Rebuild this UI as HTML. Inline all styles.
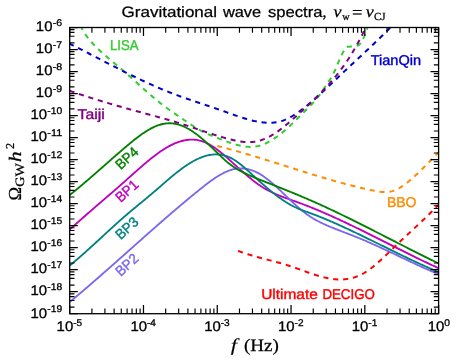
<!DOCTYPE html><html><head><meta charset="utf-8"><style>html,body{margin:0;padding:0;background:#fff}svg{display:block;will-change:transform;text-rendering:geometricPrecision}</style></head><body><svg width="457" height="363" viewBox="0 0 457 363">
<rect width="457" height="363" fill="#fff"/>
<defs><clipPath id="c"><rect x="69.70" y="27.50" width="368.90" height="286.20"/></clipPath></defs>
<g clip-path="url(#c)" fill="none" stroke-linejoin="round">
<path d="M69.70,229.56 L70.70,228.65 L71.70,227.75 L72.70,226.84 L73.70,225.94 L74.70,225.04 L75.70,224.15 L76.70,223.25 L77.70,222.36 L78.70,221.47 L79.70,220.59 L80.70,219.70 L81.70,218.82 L82.70,217.94 L83.70,217.06 L84.70,216.19 L85.70,215.31 L86.70,214.44 L87.70,213.57 L88.70,212.70 L89.70,211.83 L90.70,210.96 L91.70,210.09 L92.70,209.23 L93.70,208.36 L94.70,207.50 L95.70,206.64 L96.70,205.77 L97.70,204.91 L98.70,204.05 L99.70,203.19 L100.70,202.33 L101.70,201.46 L102.70,200.60 L103.70,199.74 L104.70,198.88 L105.70,198.02 L106.70,197.16 L107.70,196.29 L108.70,195.43 L109.70,194.57 L110.70,193.70 L111.70,192.83 L112.70,191.97 L113.70,191.10 L114.70,190.23 L115.70,189.36 L116.70,188.49 L117.70,187.62 L118.70,186.74 L119.70,185.87 L120.70,184.99 L121.70,184.11 L122.70,183.23 L123.70,182.34 L124.70,181.46 L125.70,180.57 L126.70,179.68 L127.70,178.79 L128.70,177.89 L129.70,177.00 L130.70,176.10 L131.70,175.21 L132.70,174.31 L133.70,173.42 L134.70,172.52 L135.70,171.63 L136.70,170.74 L137.70,169.86 L138.70,168.97 L139.70,168.09 L140.70,167.22 L141.70,166.35 L142.70,165.48 L143.70,164.63 L144.70,163.77 L145.70,162.93 L146.70,162.09 L147.70,161.26 L148.70,160.43 L149.70,159.62 L150.70,158.81 L151.70,158.02 L152.70,157.23 L153.70,156.46 L154.70,155.69 L155.70,154.94 L156.70,154.20 L157.70,153.47 L158.70,152.75 L159.70,152.05 L160.70,151.36 L161.70,150.69 L162.70,150.03 L163.70,149.39 L164.70,148.76 L165.70,148.15 L166.70,147.56 L167.70,146.98 L168.70,146.42 L169.70,145.88 L170.70,145.36 L171.70,144.86 L172.70,144.38 L173.70,143.91 L174.70,143.47 L175.70,143.05 L176.70,142.65 L177.70,142.28 L178.70,141.92 L179.70,141.59 L180.70,141.28 L181.70,141.00 L182.70,140.74 L183.70,140.51 L184.70,140.30 L185.70,140.12 L186.70,139.96 L187.70,139.83 L188.70,139.73 L189.70,139.65 L190.70,139.61 L191.70,139.59 L192.70,139.60 L193.70,139.64 L194.70,139.71 L195.70,139.81 L196.70,139.94 L197.70,140.11 L198.70,140.30 L199.70,140.53 L200.70,140.79 L201.70,141.08 L202.70,141.41 L203.70,141.77 L204.70,142.17 L205.70,142.60 L206.70,143.06 L207.70,143.56 L208.70,144.08 L209.70,144.64 L210.70,145.22 L211.70,145.83 L212.70,146.47 L213.70,147.13 L214.70,147.81 L215.70,148.52 L216.70,149.24 L217.70,149.99 L218.70,150.76 L219.70,151.54 L220.70,152.34 L221.70,153.16 L222.70,153.99 L223.70,154.83 L224.70,155.68 L225.70,156.55 L226.70,157.42 L227.70,158.31 L228.70,159.20 L229.70,160.09 L230.70,161.00 L231.70,161.90 L232.70,162.81 L233.70,163.72 L234.70,164.63 L235.70,165.53 L236.70,166.44 L237.70,167.34 L238.70,168.25 L239.70,169.14 L240.70,170.04 L241.70,170.92 L242.70,171.81 L243.70,172.68 L244.70,173.55 L245.70,174.41 L246.70,175.27 L247.70,176.11 L248.70,176.95 L249.70,177.77 L250.70,178.59 L251.70,179.39 L252.70,180.18 L253.70,180.96 L254.70,181.73 L255.70,182.48 L256.70,183.22 L257.70,183.94 L258.70,184.65 L259.70,185.34 L260.70,186.01 L261.70,186.67 L262.70,187.31 L263.70,187.93 L264.70,188.53 L265.70,189.11 L266.70,189.68 L267.70,190.23 L268.70,190.76 L269.70,191.28 L270.70,191.78 L271.70,192.27 L272.70,192.75 L273.70,193.21 L274.70,193.66 L275.70,194.10 L276.70,194.53 L277.70,194.95 L278.70,195.36 L279.70,195.76 L280.70,196.15 L281.70,196.54 L282.70,196.92 L283.70,197.29 L284.70,197.66 L285.70,198.02 L286.70,198.38 L287.70,198.74 L288.70,199.09 L289.70,199.44 L290.70,199.79 L291.70,200.15 L292.70,200.50 L293.70,200.85 L294.70,201.20 L295.70,201.56 L296.70,201.92 L297.70,202.28 L298.70,202.64 L299.70,203.01 L300.70,203.38 L301.70,203.75 L302.70,204.13 L303.70,204.51 L304.70,204.89 L305.70,205.28 L306.70,205.67 L307.70,206.06 L308.70,206.45 L309.70,206.85 L310.70,207.25 L311.70,207.65 L312.70,208.06 L313.70,208.47 L314.70,208.88 L315.70,209.29 L316.70,209.70 L317.70,210.12 L318.70,210.54 L319.70,210.96 L320.70,211.39 L321.70,211.82 L322.70,212.24 L323.70,212.68 L324.70,213.11 L325.70,213.55 L326.70,213.98 L327.70,214.42 L328.70,214.87 L329.70,215.31 L330.70,215.76 L331.70,216.21 L332.70,216.66 L333.70,217.11 L334.70,217.56 L335.70,218.02 L336.70,218.48 L337.70,218.94 L338.70,219.40 L339.70,219.86 L340.70,220.33 L341.70,220.79 L342.70,221.26 L343.70,221.73 L344.70,222.20 L345.70,222.67 L346.70,223.15 L347.70,223.62 L348.70,224.10 L349.70,224.58 L350.70,225.06 L351.70,225.54 L352.70,226.02 L353.70,226.50 L354.70,226.99 L355.70,227.47 L356.70,227.96 L357.70,228.44 L358.70,228.93 L359.70,229.42 L360.70,229.91 L361.70,230.41 L362.70,230.90 L363.70,231.39 L364.70,231.88 L365.70,232.38 L366.70,232.88 L367.70,233.37 L368.70,233.87 L369.70,234.37 L370.70,234.86 L371.70,235.36 L372.70,235.86 L373.70,236.36 L374.70,236.86 L375.70,237.36 L376.70,237.86 L377.70,238.37 L378.70,238.87 L379.70,239.37 L380.70,239.87 L381.70,240.37 L382.70,240.88 L383.70,241.38 L384.70,241.88 L385.70,242.39 L386.70,242.89 L387.70,243.39 L388.70,243.90 L389.70,244.40 L390.70,244.90 L391.70,245.41 L392.70,245.91 L393.70,246.41 L394.70,246.91 L395.70,247.42 L396.70,247.92 L397.70,248.42 L398.70,248.92 L399.70,249.42 L400.70,249.92 L401.70,250.42 L402.70,250.92 L403.70,251.42 L404.70,251.92 L405.70,252.42 L406.70,252.91 L407.70,253.41 L408.70,253.90 L409.70,254.40 L410.70,254.89 L411.70,255.39 L412.70,255.88 L413.70,256.37 L414.70,256.86 L415.70,257.35 L416.70,257.84 L417.70,258.33 L418.70,258.81 L419.70,259.30 L420.70,259.78 L421.70,260.26 L422.70,260.75 L423.70,261.23 L424.70,261.71 L425.70,262.18 L426.70,262.66 L427.70,263.14 L428.70,263.61 L429.70,264.08 L430.70,264.55 L431.70,265.02 L432.70,265.49 L433.70,265.96 L434.70,266.42 L435.70,266.88 L436.70,267.34 L437.70,267.80 L438.60,268.22" stroke="#bf00bf" stroke-width="1.85"/>
<path d="M69.70,302.00 L70.70,301.18 L71.70,300.35 L72.70,299.52 L73.70,298.69 L74.70,297.85 L75.70,297.02 L76.70,296.18 L77.70,295.34 L78.70,294.50 L79.70,293.65 L80.70,292.81 L81.70,291.96 L82.70,291.11 L83.70,290.26 L84.70,289.40 L85.70,288.55 L86.70,287.69 L87.70,286.84 L88.70,285.98 L89.70,285.12 L90.70,284.26 L91.70,283.39 L92.70,282.53 L93.70,281.66 L94.70,280.79 L95.70,279.92 L96.70,279.05 L97.70,278.18 L98.70,277.31 L99.70,276.44 L100.70,275.56 L101.70,274.69 L102.70,273.81 L103.70,272.93 L104.70,272.05 L105.70,271.17 L106.70,270.29 L107.70,269.41 L108.70,268.53 L109.70,267.65 L110.70,266.76 L111.70,265.88 L112.70,264.99 L113.70,264.11 L114.70,263.22 L115.70,262.33 L116.70,261.45 L117.70,260.56 L118.70,259.67 L119.70,258.78 L120.70,257.89 L121.70,257.00 L122.70,256.11 L123.70,255.22 L124.70,254.33 L125.70,253.44 L126.70,252.55 L127.70,251.66 L128.70,250.77 L129.70,249.88 L130.70,248.99 L131.70,248.10 L132.70,247.21 L133.70,246.32 L134.70,245.43 L135.70,244.54 L136.70,243.65 L137.70,242.76 L138.70,241.87 L139.70,240.98 L140.70,240.09 L141.70,239.20 L142.70,238.31 L143.70,237.43 L144.70,236.54 L145.70,235.65 L146.70,234.77 L147.70,233.88 L148.70,233.00 L149.70,232.11 L150.70,231.23 L151.70,230.35 L152.70,229.46 L153.70,228.58 L154.70,227.70 L155.70,226.82 L156.70,225.94 L157.70,225.07 L158.70,224.19 L159.70,223.32 L160.70,222.44 L161.70,221.57 L162.70,220.70 L163.70,219.83 L164.70,218.96 L165.70,218.09 L166.70,217.22 L167.70,216.35 L168.70,215.49 L169.70,214.63 L170.70,213.77 L171.70,212.91 L172.70,212.05 L173.70,211.19 L174.70,210.33 L175.70,209.48 L176.70,208.63 L177.70,207.78 L178.70,206.93 L179.70,206.08 L180.70,205.24 L181.70,204.39 L182.70,203.55 L183.70,202.71 L184.70,201.88 L185.70,201.04 L186.70,200.21 L187.70,199.37 L188.70,198.55 L189.70,197.72 L190.70,196.89 L191.70,196.07 L192.70,195.25 L193.70,194.43 L194.70,193.61 L195.70,192.80 L196.70,191.99 L197.70,191.18 L198.70,190.37 L199.70,189.57 L200.70,188.77 L201.70,187.97 L202.70,187.18 L203.70,186.39 L204.70,185.60 L205.70,184.82 L206.70,184.05 L207.70,183.29 L208.70,182.54 L209.70,181.80 L210.70,181.07 L211.70,180.35 L212.70,179.64 L213.70,178.95 L214.70,178.27 L215.70,177.60 L216.70,176.95 L217.70,176.32 L218.70,175.71 L219.70,175.11 L220.70,174.54 L221.70,173.98 L222.70,173.45 L223.70,172.94 L224.70,172.45 L225.70,171.98 L226.70,171.54 L227.70,171.13 L228.70,170.74 L229.70,170.38 L230.70,170.04 L231.70,169.74 L232.70,169.46 L233.70,169.22 L234.70,169.00 L235.70,168.82 L236.70,168.68 L237.70,168.56 L238.70,168.48 L239.70,168.43 L240.70,168.41 L241.70,168.42 L242.70,168.46 L243.70,168.54 L244.70,168.65 L245.70,168.79 L246.70,168.96 L247.70,169.16 L248.70,169.39 L249.70,169.65 L250.70,169.94 L251.70,170.27 L252.70,170.62 L253.70,171.01 L254.70,171.42 L255.70,171.86 L256.70,172.34 L257.70,172.84 L258.70,173.37 L259.70,173.93 L260.70,174.52 L261.70,175.14 L262.70,175.79 L263.70,176.47 L264.70,177.17 L265.70,177.89 L266.70,178.64 L267.70,179.41 L268.70,180.20 L269.70,181.01 L270.70,181.84 L271.70,182.69 L272.70,183.55 L273.70,184.43 L274.70,185.32 L275.70,186.22 L276.70,187.14 L277.70,188.06 L278.70,189.00 L279.70,189.94 L280.70,190.89 L281.70,191.84 L282.70,192.80 L283.70,193.76 L284.70,194.72 L285.70,195.68 L286.70,196.64 L287.70,197.60 L288.70,198.56 L289.70,199.51 L290.70,200.46 L291.70,201.40 L292.70,202.33 L293.70,203.25 L294.70,204.17 L295.70,205.08 L296.70,205.97 L297.70,206.86 L298.70,207.73 L299.70,208.59 L300.70,209.43 L301.70,210.26 L302.70,211.08 L303.70,211.87 L304.70,212.65 L305.70,213.42 L306.70,214.16 L307.70,214.88 L308.70,215.58 L309.70,216.26 L310.70,216.92 L311.70,217.56 L312.70,218.18 L313.70,218.78 L314.70,219.37 L315.70,219.93 L316.70,220.48 L317.70,221.02 L318.70,221.54 L319.70,222.05 L320.70,222.55 L321.70,223.03 L322.70,223.51 L323.70,223.97 L324.70,224.42 L325.70,224.87 L326.70,225.31 L327.70,225.74 L328.70,226.17 L329.70,226.59 L330.70,227.01 L331.70,227.42 L332.70,227.83 L333.70,228.23 L334.70,228.63 L335.70,229.03 L336.70,229.43 L337.70,229.82 L338.70,230.21 L339.70,230.60 L340.70,230.98 L341.70,231.37 L342.70,231.75 L343.70,232.13 L344.70,232.51 L345.70,232.90 L346.70,233.28 L347.70,233.66 L348.70,234.05 L349.70,234.43 L350.70,234.82 L351.70,235.21 L352.70,235.60 L353.70,235.99 L354.70,236.38 L355.70,236.78 L356.70,237.18 L357.70,237.59 L358.70,238.00 L359.70,238.41 L360.70,238.82 L361.70,239.24 L362.70,239.66 L363.70,240.09 L364.70,240.51 L365.70,240.94 L366.70,241.38 L367.70,241.81 L368.70,242.25 L369.70,242.69 L370.70,243.13 L371.70,243.57 L372.70,244.02 L373.70,244.47 L374.70,244.92 L375.70,245.37 L376.70,245.83 L377.70,246.28 L378.70,246.74 L379.70,247.20 L380.70,247.66 L381.70,248.12 L382.70,248.59 L383.70,249.05 L384.70,249.52 L385.70,249.99 L386.70,250.46 L387.70,250.93 L388.70,251.40 L389.70,251.87 L390.70,252.34 L391.70,252.81 L392.70,253.29 L393.70,253.76 L394.70,254.23 L395.70,254.71 L396.70,255.18 L397.70,255.66 L398.70,256.13 L399.70,256.61 L400.70,257.08 L401.70,257.56 L402.70,258.03 L403.70,258.51 L404.70,258.98 L405.70,259.45 L406.70,259.93 L407.70,260.40 L408.70,260.87 L409.70,261.34 L410.70,261.81 L411.70,262.28 L412.70,262.75 L413.70,263.21 L414.70,263.68 L415.70,264.14 L416.70,264.60 L417.70,265.06 L418.70,265.52 L419.70,265.98 L420.70,266.44 L421.70,266.89 L422.70,267.34 L423.70,267.79 L424.70,268.24 L425.70,268.69 L426.70,269.13 L427.70,269.57 L428.70,270.01 L429.70,270.45 L430.70,270.88 L431.70,271.31 L432.70,271.74 L433.70,272.17 L434.70,272.59 L435.70,273.01 L436.70,273.43 L437.70,273.84 L438.60,274.21" stroke="#7b68ee" stroke-width="1.85"/>
<path d="M69.70,265.58 L70.70,264.76 L71.70,263.94 L72.70,263.11 L73.70,262.27 L74.70,261.42 L75.70,260.57 L76.70,259.72 L77.70,258.86 L78.70,257.99 L79.70,257.12 L80.70,256.25 L81.70,255.37 L82.70,254.49 L83.70,253.60 L84.70,252.71 L85.70,251.82 L86.70,250.92 L87.70,250.02 L88.70,249.11 L89.70,248.21 L90.70,247.30 L91.70,246.39 L92.70,245.47 L93.70,244.56 L94.70,243.64 L95.70,242.72 L96.70,241.80 L97.70,240.88 L98.70,239.96 L99.70,239.04 L100.70,238.12 L101.70,237.20 L102.70,236.27 L103.70,235.35 L104.70,234.43 L105.70,233.51 L106.70,232.59 L107.70,231.67 L108.70,230.75 L109.70,229.83 L110.70,228.92 L111.70,228.01 L112.70,227.09 L113.70,226.19 L114.70,225.28 L115.70,224.38 L116.70,223.48 L117.70,222.58 L118.70,221.68 L119.70,220.79 L120.70,219.91 L121.70,219.02 L122.70,218.15 L123.70,217.27 L124.70,216.40 L125.70,215.54 L126.70,214.68 L127.70,213.82 L128.70,212.97 L129.70,212.13 L130.70,211.28 L131.70,210.44 L132.70,209.61 L133.70,208.78 L134.70,207.94 L135.70,207.12 L136.70,206.29 L137.70,205.46 L138.70,204.64 L139.70,203.81 L140.70,202.99 L141.70,202.17 L142.70,201.34 L143.70,200.52 L144.70,199.69 L145.70,198.86 L146.70,198.03 L147.70,197.20 L148.70,196.37 L149.70,195.53 L150.70,194.69 L151.70,193.85 L152.70,193.00 L153.70,192.15 L154.70,191.29 L155.70,190.43 L156.70,189.57 L157.70,188.70 L158.70,187.83 L159.70,186.96 L160.70,186.09 L161.70,185.21 L162.70,184.34 L163.70,183.47 L164.70,182.60 L165.70,181.74 L166.70,180.87 L167.70,180.01 L168.70,179.16 L169.70,178.31 L170.70,177.46 L171.70,176.62 L172.70,175.79 L173.70,174.97 L174.70,174.15 L175.70,173.35 L176.70,172.55 L177.70,171.76 L178.70,170.99 L179.70,170.22 L180.70,169.47 L181.70,168.73 L182.70,168.00 L183.70,167.29 L184.70,166.59 L185.70,165.90 L186.70,165.23 L187.70,164.57 L188.70,163.93 L189.70,163.31 L190.70,162.70 L191.70,162.11 L192.70,161.54 L193.70,160.98 L194.70,160.45 L195.70,159.93 L196.70,159.44 L197.70,158.96 L198.70,158.50 L199.70,158.07 L200.70,157.66 L201.70,157.27 L202.70,156.90 L203.70,156.55 L204.70,156.23 L205.70,155.94 L206.70,155.67 L207.70,155.42 L208.70,155.20 L209.70,155.01 L210.70,154.84 L211.70,154.70 L212.70,154.59 L213.70,154.50 L214.70,154.45 L215.70,154.42 L216.70,154.43 L217.70,154.46 L218.70,154.53 L219.70,154.63 L220.70,154.76 L221.70,154.92 L222.70,155.11 L223.70,155.34 L224.70,155.60 L225.70,155.89 L226.70,156.23 L227.70,156.59 L228.70,156.99 L229.70,157.43 L230.70,157.91 L231.70,158.42 L232.70,158.97 L233.70,159.56 L234.70,160.18 L235.70,160.83 L236.70,161.52 L237.70,162.24 L238.70,162.98 L239.70,163.74 L240.70,164.53 L241.70,165.34 L242.70,166.17 L243.70,167.02 L244.70,167.88 L245.70,168.75 L246.70,169.64 L247.70,170.53 L248.70,171.43 L249.70,172.34 L250.70,173.25 L251.70,174.16 L252.70,175.07 L253.70,175.99 L254.70,176.90 L255.70,177.82 L256.70,178.73 L257.70,179.64 L258.70,180.55 L259.70,181.45 L260.70,182.35 L261.70,183.24 L262.70,184.13 L263.70,185.01 L264.70,185.88 L265.70,186.74 L266.70,187.60 L267.70,188.45 L268.70,189.29 L269.70,190.12 L270.70,190.95 L271.70,191.76 L272.70,192.57 L273.70,193.36 L274.70,194.14 L275.70,194.91 L276.70,195.68 L277.70,196.42 L278.70,197.16 L279.70,197.89 L280.70,198.60 L281.70,199.30 L282.70,199.98 L283.70,200.66 L284.70,201.31 L285.70,201.96 L286.70,202.58 L287.70,203.20 L288.70,203.80 L289.70,204.38 L290.70,204.94 L291.70,205.49 L292.70,206.02 L293.70,206.54 L294.70,207.03 L295.70,207.51 L296.70,207.97 L297.70,208.42 L298.70,208.84 L299.70,209.25 L300.70,209.65 L301.70,210.04 L302.70,210.42 L303.70,210.79 L304.70,211.16 L305.70,211.52 L306.70,211.88 L307.70,212.23 L308.70,212.59 L309.70,212.95 L310.70,213.31 L311.70,213.67 L312.70,214.04 L313.70,214.42 L314.70,214.80 L315.70,215.18 L316.70,215.56 L317.70,215.95 L318.70,216.34 L319.70,216.74 L320.70,217.14 L321.70,217.54 L322.70,217.95 L323.70,218.36 L324.70,218.77 L325.70,219.19 L326.70,219.61 L327.70,220.03 L328.70,220.46 L329.70,220.88 L330.70,221.31 L331.70,221.75 L332.70,222.18 L333.70,222.62 L334.70,223.06 L335.70,223.51 L336.70,223.95 L337.70,224.40 L338.70,224.85 L339.70,225.30 L340.70,225.75 L341.70,226.21 L342.70,226.67 L343.70,227.13 L344.70,227.59 L345.70,228.05 L346.70,228.52 L347.70,228.98 L348.70,229.45 L349.70,229.92 L350.70,230.39 L351.70,230.86 L352.70,231.34 L353.70,231.81 L354.70,232.29 L355.70,232.77 L356.70,233.24 L357.70,233.72 L358.70,234.20 L359.70,234.69 L360.70,235.17 L361.70,235.65 L362.70,236.14 L363.70,236.62 L364.70,237.11 L365.70,237.60 L366.70,238.08 L367.70,238.57 L368.70,239.06 L369.70,239.55 L370.70,240.04 L371.70,240.53 L372.70,241.03 L373.70,241.52 L374.70,242.01 L375.70,242.50 L376.70,242.99 L377.70,243.49 L378.70,243.98 L379.70,244.47 L380.70,244.97 L381.70,245.46 L382.70,245.95 L383.70,246.45 L384.70,246.94 L385.70,247.43 L386.70,247.92 L387.70,248.42 L388.70,248.91 L389.70,249.40 L390.70,249.89 L391.70,250.38 L392.70,250.87 L393.70,251.36 L394.70,251.85 L395.70,252.34 L396.70,252.83 L397.70,253.32 L398.70,253.80 L399.70,254.29 L400.70,254.77 L401.70,255.26 L402.70,255.74 L403.70,256.22 L404.70,256.70 L405.70,257.18 L406.70,257.66 L407.70,258.14 L408.70,258.61 L409.70,259.09 L410.70,259.56 L411.70,260.03 L412.70,260.51 L413.70,260.97 L414.70,261.44 L415.70,261.91 L416.70,262.37 L417.70,262.84 L418.70,263.30 L419.70,263.76 L420.70,264.22 L421.70,264.67 L422.70,265.13 L423.70,265.58 L424.70,266.03 L425.70,266.48 L426.70,266.92 L427.70,267.37 L428.70,267.81 L429.70,268.25 L430.70,268.68 L431.70,269.12 L432.70,269.55 L433.70,269.98 L434.70,270.41 L435.70,270.83 L436.70,271.26 L437.70,271.68 L438.60,272.05" stroke="#008080" stroke-width="1.85"/>
<path d="M69.70,195.04 L70.70,194.25 L71.70,193.45 L72.70,192.64 L73.70,191.83 L74.70,191.02 L75.70,190.20 L76.70,189.37 L77.70,188.55 L78.70,187.72 L79.70,186.88 L80.70,186.04 L81.70,185.20 L82.70,184.35 L83.70,183.51 L84.70,182.65 L85.70,181.80 L86.70,180.94 L87.70,180.08 L88.70,179.22 L89.70,178.36 L90.70,177.49 L91.70,176.62 L92.70,175.75 L93.70,174.88 L94.70,174.01 L95.70,173.13 L96.70,172.26 L97.70,171.38 L98.70,170.50 L99.70,169.62 L100.70,168.74 L101.70,167.86 L102.70,166.98 L103.70,166.10 L104.70,165.22 L105.70,164.34 L106.70,163.46 L107.70,162.58 L108.70,161.70 L109.70,160.82 L110.70,159.94 L111.70,159.06 L112.70,158.18 L113.70,157.31 L114.70,156.44 L115.70,155.56 L116.70,154.69 L117.70,153.82 L118.70,152.96 L119.70,152.09 L120.70,151.23 L121.70,150.37 L122.70,149.51 L123.70,148.66 L124.70,147.81 L125.70,146.96 L126.70,146.11 L127.70,145.27 L128.70,144.43 L129.70,143.60 L130.70,142.78 L131.70,141.96 L132.70,141.15 L133.70,140.34 L134.70,139.55 L135.70,138.76 L136.70,137.99 L137.70,137.23 L138.70,136.47 L139.70,135.74 L140.70,135.01 L141.70,134.30 L142.70,133.60 L143.70,132.92 L144.70,132.26 L145.70,131.62 L146.70,130.99 L147.70,130.38 L148.70,129.79 L149.70,129.22 L150.70,128.67 L151.70,128.14 L152.70,127.64 L153.70,127.16 L154.70,126.70 L155.70,126.27 L156.70,125.86 L157.70,125.48 L158.70,125.13 L159.70,124.81 L160.70,124.51 L161.70,124.24 L162.70,124.01 L163.70,123.80 L164.70,123.62 L165.70,123.48 L166.70,123.37 L167.70,123.30 L168.70,123.25 L169.70,123.25 L170.70,123.28 L171.70,123.34 L172.70,123.43 L173.70,123.56 L174.70,123.72 L175.70,123.91 L176.70,124.13 L177.70,124.38 L178.70,124.67 L179.70,124.98 L180.70,125.32 L181.70,125.69 L182.70,126.09 L183.70,126.52 L184.70,126.97 L185.70,127.45 L186.70,127.96 L187.70,128.49 L188.70,129.05 L189.70,129.63 L190.70,130.24 L191.70,130.87 L192.70,131.53 L193.70,132.21 L194.70,132.91 L195.70,133.63 L196.70,134.37 L197.70,135.14 L198.70,135.92 L199.70,136.72 L200.70,137.55 L201.70,138.38 L202.70,139.24 L203.70,140.10 L204.70,140.99 L205.70,141.88 L206.70,142.79 L207.70,143.70 L208.70,144.63 L209.70,145.56 L210.70,146.50 L211.70,147.45 L212.70,148.41 L213.70,149.37 L214.70,150.33 L215.70,151.29 L216.70,152.26 L217.70,153.23 L218.70,154.20 L219.70,155.16 L220.70,156.12 L221.70,157.07 L222.70,158.01 L223.70,158.94 L224.70,159.85 L225.70,160.74 L226.70,161.60 L227.70,162.45 L228.70,163.26 L229.70,164.05 L230.70,164.81 L231.70,165.54 L232.70,166.25 L233.70,166.93 L234.70,167.60 L235.70,168.24 L236.70,168.85 L237.70,169.45 L238.70,170.03 L239.70,170.59 L240.70,171.14 L241.70,171.67 L242.70,172.18 L243.70,172.69 L244.70,173.18 L245.70,173.65 L246.70,174.12 L247.70,174.58 L248.70,175.03 L249.70,175.48 L250.70,175.91 L251.70,176.34 L252.70,176.77 L253.70,177.19 L254.70,177.61 L255.70,178.02 L256.70,178.43 L257.70,178.84 L258.70,179.24 L259.70,179.64 L260.70,180.04 L261.70,180.44 L262.70,180.83 L263.70,181.23 L264.70,181.62 L265.70,182.02 L266.70,182.42 L267.70,182.81 L268.70,183.21 L269.70,183.60 L270.70,184.00 L271.70,184.39 L272.70,184.79 L273.70,185.19 L274.70,185.58 L275.70,185.98 L276.70,186.38 L277.70,186.77 L278.70,187.17 L279.70,187.57 L280.70,187.97 L281.70,188.37 L282.70,188.77 L283.70,189.17 L284.70,189.57 L285.70,189.98 L286.70,190.38 L287.70,190.78 L288.70,191.19 L289.70,191.59 L290.70,192.00 L291.70,192.41 L292.70,192.82 L293.70,193.23 L294.70,193.64 L295.70,194.05 L296.70,194.46 L297.70,194.88 L298.70,195.30 L299.70,195.71 L300.70,196.13 L301.70,196.55 L302.70,196.98 L303.70,197.40 L304.70,197.82 L305.70,198.25 L306.70,198.68 L307.70,199.11 L308.70,199.54 L309.70,199.98 L310.70,200.41 L311.70,200.85 L312.70,201.29 L313.70,201.73 L314.70,202.18 L315.70,202.62 L316.70,203.07 L317.70,203.52 L318.70,203.97 L319.70,204.42 L320.70,204.87 L321.70,205.33 L322.70,205.79 L323.70,206.25 L324.70,206.71 L325.70,207.17 L326.70,207.63 L327.70,208.10 L328.70,208.56 L329.70,209.03 L330.70,209.50 L331.70,209.97 L332.70,210.44 L333.70,210.92 L334.70,211.39 L335.70,211.87 L336.70,212.35 L337.70,212.83 L338.70,213.31 L339.70,213.79 L340.70,214.27 L341.70,214.75 L342.70,215.24 L343.70,215.72 L344.70,216.21 L345.70,216.70 L346.70,217.19 L347.70,217.68 L348.70,218.17 L349.70,218.66 L350.70,219.15 L351.70,219.65 L352.70,220.14 L353.70,220.64 L354.70,221.14 L355.70,221.63 L356.70,222.13 L357.70,222.63 L358.70,223.13 L359.70,223.63 L360.70,224.13 L361.70,224.63 L362.70,225.14 L363.70,225.64 L364.70,226.14 L365.70,226.65 L366.70,227.15 L367.70,227.66 L368.70,228.17 L369.70,228.67 L370.70,229.18 L371.70,229.69 L372.70,230.20 L373.70,230.70 L374.70,231.21 L375.70,231.72 L376.70,232.23 L377.70,232.74 L378.70,233.25 L379.70,233.76 L380.70,234.27 L381.70,234.78 L382.70,235.29 L383.70,235.81 L384.70,236.32 L385.70,236.83 L386.70,237.34 L387.70,237.85 L388.70,238.36 L389.70,238.87 L390.70,239.39 L391.70,239.90 L392.70,240.41 L393.70,240.92 L394.70,241.43 L395.70,241.94 L396.70,242.45 L397.70,242.96 L398.70,243.47 L399.70,243.98 L400.70,244.49 L401.70,245.00 L402.70,245.51 L403.70,246.02 L404.70,246.53 L405.70,247.04 L406.70,247.55 L407.70,248.06 L408.70,248.56 L409.70,249.07 L410.70,249.58 L411.70,250.08 L412.70,250.59 L413.70,251.09 L414.70,251.60 L415.70,252.10 L416.70,252.60 L417.70,253.10 L418.70,253.60 L419.70,254.11 L420.70,254.61 L421.70,255.10 L422.70,255.60 L423.70,256.10 L424.70,256.60 L425.70,257.09 L426.70,257.59 L427.70,258.08 L428.70,258.58 L429.70,259.07 L430.70,259.56 L431.70,260.05 L432.70,260.54 L433.70,261.03 L434.70,261.51 L435.70,262.00 L436.70,262.48 L437.70,262.97 L438.60,263.40" stroke="#008000" stroke-width="1.85"/>
<path d="M80.50,25.91 L81.50,27.82 L82.50,29.62 L83.50,31.33 L84.50,32.94 L85.50,34.46 L86.50,35.91 L87.50,37.28 L88.50,38.58 L89.50,39.82 L90.50,41.01 L91.50,42.16 L92.50,43.26 L93.50,44.32 L94.50,45.36 L95.50,46.38 L96.50,47.38 L97.50,48.36 L98.50,49.33 L99.50,50.28 L100.50,51.22 L101.50,52.14 L102.50,53.05 L103.50,53.95 L104.50,54.84 L105.50,55.72 L106.50,56.59 L107.50,57.45 L108.50,58.31 L109.50,59.16 L110.50,60.00 L111.50,60.84 L112.50,61.67 L113.50,62.51 L114.50,63.34 L115.50,64.17 L116.50,65.00 L117.50,65.84 L118.50,66.67 L119.50,67.51 L120.50,68.35 L121.50,69.20 L122.50,70.05 L123.50,70.91 L124.50,71.78 L125.50,72.65 L126.50,73.52 L127.50,74.40 L128.50,75.29 L129.50,76.18 L130.50,77.07 L131.50,77.96 L132.50,78.86 L133.50,79.76 L134.50,80.66 L135.50,81.56 L136.50,82.46 L137.50,83.36 L138.50,84.26 L139.50,85.17 L140.50,86.07 L141.50,86.97 L142.50,87.86 L143.50,88.76 L144.50,89.65 L145.50,90.54 L146.50,91.43 L147.50,92.31 L148.50,93.19 L149.50,94.06 L150.50,94.93 L151.50,95.79 L152.50,96.65 L153.50,97.50 L154.50,98.34 L155.50,99.18 L156.50,100.01 L157.50,100.83 L158.50,101.64 L159.50,102.45 L160.50,103.24 L161.50,104.02 L162.50,104.80 L163.50,105.56 L164.50,106.32 L165.50,107.06 L166.50,107.80 L167.50,108.53 L168.50,109.25 L169.50,109.96 L170.50,110.67 L171.50,111.37 L172.50,112.07 L173.50,112.77 L174.50,113.46 L175.50,114.14 L176.50,114.83 L177.50,115.51 L178.50,116.19 L179.50,116.87 L180.50,117.55 L181.50,118.23 L182.50,118.91 L183.50,119.60 L184.50,120.28 L185.50,120.96 L186.50,121.64 L187.50,122.32 L188.50,122.99 L189.50,123.66 L190.50,124.32 L191.50,124.98 L192.50,125.63 L193.50,126.27 L194.50,126.91 L195.50,127.53 L196.50,128.15 L197.50,128.75 L198.50,129.34 L199.50,129.91 L200.50,130.47 L201.50,131.02 L202.50,131.55 L203.50,132.07 L204.50,132.56 L205.50,133.04 L206.50,133.50 L207.50,133.95 L208.50,134.39 L209.50,134.81 L210.50,135.22 L211.50,135.63 L212.50,136.03 L213.50,136.42 L214.50,136.81 L215.50,137.19 L216.50,137.57 L217.50,137.96 L218.50,138.34 L219.50,138.73 L220.50,139.12 L221.50,139.51 L222.50,139.90 L223.50,140.29 L224.50,140.67 L225.50,141.05 L226.50,141.43 L227.50,141.81 L228.50,142.17 L229.50,142.53 L230.50,142.89 L231.50,143.23 L232.50,143.56 L233.50,143.89 L234.50,144.20 L235.50,144.50 L236.50,144.79 L237.50,145.06 L238.50,145.32 L239.50,145.56 L240.50,145.78 L241.50,145.99 L242.50,146.18 L243.50,146.35 L244.50,146.50 L245.50,146.62 L246.50,146.73 L247.50,146.81 L248.50,146.87 L249.50,146.90 L250.50,146.91 L251.50,146.89 L252.50,146.84 L253.50,146.76 L254.50,146.66 L255.50,146.52 L256.50,146.35 L257.50,146.15 L258.50,145.92 L259.50,145.66 L260.50,145.36 L261.50,145.04 L262.50,144.69 L263.50,144.31 L264.50,143.90 L265.50,143.46 L266.50,142.99 L267.50,142.50 L268.50,141.98 L269.50,141.44 L270.50,140.88 L271.50,140.28 L272.50,139.67 L273.50,139.03 L274.50,138.37 L275.50,137.69 L276.50,136.99 L277.50,136.27 L278.50,135.53 L279.50,134.76 L280.50,133.98 L281.50,133.19 L282.50,132.37 L283.50,131.54 L284.50,130.69 L285.50,129.83 L286.50,128.95 L287.50,128.05 L288.50,127.15 L289.50,126.22 L290.50,125.29 L291.50,124.35 L292.50,123.39 L293.50,122.42 L294.50,121.45 L295.50,120.47 L296.50,119.48 L297.50,118.48 L298.50,117.48 L299.50,116.48 L300.50,115.47 L301.50,114.47 L302.50,113.46 L303.50,112.45 L304.50,111.44 L305.50,110.44 L306.50,109.44 L307.50,108.44 L308.50,107.46 L309.50,106.47 L310.50,105.47 L311.50,104.47 L312.50,103.44 L313.50,102.39 L314.50,101.30 L315.50,100.16 L316.50,98.98 L317.50,97.73 L318.50,96.42 L319.50,95.04 L320.50,93.61 L321.50,92.13 L322.50,90.65 L323.50,89.16 L324.50,87.69 L325.50,86.25 L326.50,84.82 L327.50,83.37 L328.50,81.89 L329.50,80.36 L330.50,78.76 L331.50,77.07 L332.50,75.28 L333.50,73.35 L334.50,71.29 L335.50,69.07 L336.50,66.74 L337.50,64.35 L338.50,61.94 L339.50,59.56 L340.50,57.27 L341.50,55.12 L342.50,53.19 L343.50,51.50 L344.50,49.93 L345.50,48.40 L346.50,47.24 L347.50,46.77 L348.50,46.68 L349.50,46.65 L350.50,46.62 L351.50,46.60 L352.50,46.59 L353.50,46.56 L354.50,46.47 L355.50,46.29 L356.50,46.00 L357.50,45.60 L358.50,45.08 L359.50,44.39 L360.50,43.39 L361.50,42.00 L362.50,40.22 L363.50,38.11 L364.50,35.72 L365.50,33.14 L366.50,30.44 L367.50,27.68 L368.30,25.50" stroke="#32cd32" stroke-width="2.0" stroke-dasharray="5.10 4.84" stroke-dashoffset="0.50"/>
<path d="M69.90,43.78 L70.90,44.28 L71.90,44.79 L72.90,45.29 L73.90,45.80 L74.90,46.30 L75.90,46.81 L76.90,47.32 L77.90,47.83 L78.90,48.34 L79.90,48.85 L80.90,49.36 L81.90,49.88 L82.90,50.39 L83.90,50.91 L84.90,51.42 L85.90,51.94 L86.90,52.46 L87.90,52.97 L88.90,53.49 L89.90,54.01 L90.90,54.53 L91.90,55.05 L92.90,55.57 L93.90,56.08 L94.90,56.60 L95.90,57.12 L96.90,57.64 L97.90,58.16 L98.90,58.68 L99.90,59.20 L100.90,59.72 L101.90,60.24 L102.90,60.76 L103.90,61.28 L104.90,61.80 L105.90,62.32 L106.90,62.84 L107.90,63.35 L108.90,63.87 L109.90,64.39 L110.90,64.90 L111.90,65.42 L112.90,65.93 L113.90,66.44 L114.90,66.96 L115.90,67.47 L116.90,67.98 L117.90,68.49 L118.90,69.00 L119.90,69.51 L120.90,70.01 L121.90,70.52 L122.90,71.02 L123.90,71.53 L124.90,72.03 L125.90,72.53 L126.90,73.03 L127.90,73.53 L128.90,74.02 L129.90,74.52 L130.90,75.01 L131.90,75.50 L132.90,75.99 L133.90,76.48 L134.90,76.97 L135.90,77.45 L136.90,77.93 L137.90,78.41 L138.90,78.89 L139.90,79.37 L140.90,79.84 L141.90,80.32 L142.90,80.78 L143.90,81.25 L144.90,81.72 L145.90,82.18 L146.90,82.64 L147.90,83.10 L148.90,83.56 L149.90,84.01 L150.90,84.46 L151.90,84.91 L152.90,85.35 L153.90,85.79 L154.90,86.23 L155.90,86.67 L156.90,87.10 L157.90,87.54 L158.90,87.96 L159.90,88.39 L160.90,88.81 L161.90,89.23 L162.90,89.64 L163.90,90.06 L164.90,90.47 L165.90,90.87 L166.90,91.27 L167.90,91.67 L168.90,92.07 L169.90,92.46 L170.90,92.85 L171.90,93.23 L172.90,93.61 L173.90,93.99 L174.90,94.37 L175.90,94.74 L176.90,95.11 L177.90,95.48 L178.90,95.85 L179.90,96.21 L180.90,96.57 L181.90,96.93 L182.90,97.29 L183.90,97.64 L184.90,97.99 L185.90,98.34 L186.90,98.69 L187.90,99.04 L188.90,99.38 L189.90,99.73 L190.90,100.07 L191.90,100.41 L192.90,100.75 L193.90,101.09 L194.90,101.43 L195.90,101.77 L196.90,102.11 L197.90,102.44 L198.90,102.78 L199.90,103.11 L200.90,103.45 L201.90,103.78 L202.90,104.12 L203.90,104.45 L204.90,104.79 L205.90,105.12 L206.90,105.46 L207.90,105.79 L208.90,106.13 L209.90,106.46 L210.90,106.80 L211.90,107.14 L212.90,107.48 L213.90,107.82 L214.90,108.16 L215.90,108.50 L216.90,108.84 L217.90,109.19 L218.90,109.53 L219.90,109.88 L220.90,110.23 L221.90,110.58 L222.90,110.94 L223.90,111.29 L224.90,111.65 L225.90,112.00 L226.90,112.36 L227.90,112.72 L228.90,113.08 L229.90,113.44 L230.90,113.80 L231.90,114.16 L232.90,114.52 L233.90,114.87 L234.90,115.23 L235.90,115.58 L236.90,115.92 L237.90,116.27 L238.90,116.60 L239.90,116.94 L240.90,117.27 L241.90,117.59 L242.90,117.91 L243.90,118.22 L244.90,118.53 L245.90,118.83 L246.90,119.12 L247.90,119.40 L248.90,119.68 L249.90,119.95 L250.90,120.20 L251.90,120.45 L252.90,120.69 L253.90,120.92 L254.90,121.13 L255.90,121.34 L256.90,121.53 L257.90,121.71 L258.90,121.88 L259.90,122.04 L260.90,122.18 L261.90,122.31 L262.90,122.42 L263.90,122.52 L264.90,122.60 L265.90,122.67 L266.90,122.72 L267.90,122.76 L268.90,122.77 L269.90,122.77 L270.90,122.74 L271.90,122.70 L272.90,122.63 L273.90,122.54 L274.90,122.43 L275.90,122.29 L276.90,122.13 L277.90,121.94 L278.90,121.73 L279.90,121.49 L280.90,121.22 L281.90,120.92 L282.90,120.59 L283.90,120.23 L284.90,119.84 L285.90,119.42 L286.90,118.98 L287.90,118.50 L288.90,118.00 L289.90,117.48 L290.90,116.93 L291.90,116.36 L292.90,115.76 L293.90,115.15 L294.90,114.51 L295.90,113.86 L296.90,113.19 L297.90,112.50 L298.90,111.80 L299.90,111.08 L300.90,110.35 L301.90,109.60 L302.90,108.84 L303.90,108.07 L304.90,107.29 L305.90,106.50 L306.90,105.69 L307.90,104.88 L308.90,104.05 L309.90,103.22 L310.90,102.37 L311.90,101.52 L312.90,100.65 L313.90,99.78 L314.90,98.90 L315.90,98.02 L316.90,97.12 L317.90,96.22 L318.90,95.32 L319.90,94.41 L320.90,93.49 L321.90,92.57 L322.90,91.64 L323.90,90.71 L324.90,89.77 L325.90,88.83 L326.90,87.89 L327.90,86.95 L328.90,86.00 L329.90,85.05 L330.90,84.10 L331.90,83.15 L332.90,82.20 L333.90,81.25 L334.90,80.30 L335.90,79.35 L336.90,78.40 L337.90,77.45 L338.90,76.51 L339.90,75.56 L340.90,74.62 L341.90,73.68 L342.90,72.74 L343.90,71.81 L344.90,70.87 L345.90,69.93 L346.90,69.00 L347.90,68.07 L348.90,67.13 L349.90,66.20 L350.90,65.27 L351.90,64.34 L352.90,63.41 L353.90,62.48 L354.90,61.55 L355.90,60.62 L356.90,59.69 L357.90,58.75 L358.90,57.82 L359.90,56.89 L360.90,55.96 L361.90,55.02 L362.90,54.09 L363.90,53.15 L364.90,52.22 L365.90,51.28 L366.90,50.34 L367.90,49.40 L368.90,48.46 L369.90,47.51 L370.90,46.57 L371.90,45.62 L372.90,44.67 L373.90,43.71 L374.90,42.76 L375.90,41.80 L376.90,40.84 L377.90,39.88 L378.90,38.91 L379.90,37.94 L380.90,36.97 L381.90,36.00 L382.90,35.02 L383.90,34.03 L384.90,33.05 L385.90,32.06 L386.90,31.07 L387.90,30.07 L388.90,29.07 L389.90,28.06 L390.90,27.05 L391.90,26.04 L392.00,25.94" stroke="#0000cd" stroke-width="2.0" stroke-dasharray="5.10 4.83" stroke-dashoffset="0.80"/>
<path d="M69.90,90.90 L70.90,91.25 L71.90,91.59 L72.90,91.93 L73.90,92.27 L74.90,92.61 L75.90,92.95 L76.90,93.29 L77.90,93.62 L78.90,93.95 L79.90,94.29 L80.90,94.62 L81.90,94.95 L82.90,95.27 L83.90,95.60 L84.90,95.92 L85.90,96.25 L86.90,96.57 L87.90,96.89 L88.90,97.21 L89.90,97.53 L90.90,97.85 L91.90,98.16 L92.90,98.48 L93.90,98.79 L94.90,99.10 L95.90,99.41 L96.90,99.72 L97.90,100.03 L98.90,100.34 L99.90,100.64 L100.90,100.95 L101.90,101.25 L102.90,101.56 L103.90,101.86 L104.90,102.16 L105.90,102.46 L106.90,102.75 L107.90,103.05 L108.90,103.35 L109.90,103.64 L110.90,103.94 L111.90,104.23 L112.90,104.52 L113.90,104.81 L114.90,105.10 L115.90,105.39 L116.90,105.68 L117.90,105.97 L118.90,106.25 L119.90,106.54 L120.90,106.82 L121.90,107.10 L122.90,107.39 L123.90,107.67 L124.90,107.95 L125.90,108.23 L126.90,108.51 L127.90,108.79 L128.90,109.06 L129.90,109.34 L130.90,109.61 L131.90,109.89 L132.90,110.16 L133.90,110.44 L134.90,110.71 L135.90,110.98 L136.90,111.25 L137.90,111.52 L138.90,111.79 L139.90,112.06 L140.90,112.33 L141.90,112.60 L142.90,112.87 L143.90,113.14 L144.90,113.40 L145.90,113.67 L146.90,113.94 L147.90,114.21 L148.90,114.48 L149.90,114.75 L150.90,115.02 L151.90,115.29 L152.90,115.56 L153.90,115.83 L154.90,116.10 L155.90,116.38 L156.90,116.65 L157.90,116.92 L158.90,117.20 L159.90,117.48 L160.90,117.75 L161.90,118.03 L162.90,118.31 L163.90,118.59 L164.90,118.88 L165.90,119.16 L166.90,119.45 L167.90,119.73 L168.90,120.02 L169.90,120.31 L170.90,120.60 L171.90,120.90 L172.90,121.20 L173.90,121.49 L174.90,121.79 L175.90,122.10 L176.90,122.40 L177.90,122.71 L178.90,123.02 L179.90,123.33 L180.90,123.65 L181.90,123.96 L182.90,124.28 L183.90,124.61 L184.90,124.93 L185.90,125.26 L186.90,125.59 L187.90,125.92 L188.90,126.25 L189.90,126.58 L190.90,126.92 L191.90,127.26 L192.90,127.60 L193.90,127.93 L194.90,128.27 L195.90,128.61 L196.90,128.95 L197.90,129.29 L198.90,129.63 L199.90,129.97 L200.90,130.31 L201.90,130.65 L202.90,130.99 L203.90,131.33 L204.90,131.67 L205.90,132.00 L206.90,132.34 L207.90,132.67 L208.90,133.00 L209.90,133.33 L210.90,133.66 L211.90,133.98 L212.90,134.30 L213.90,134.62 L214.90,134.94 L215.90,135.25 L216.90,135.57 L217.90,135.87 L218.90,136.18 L219.90,136.48 L220.90,136.77 L221.90,137.07 L222.90,137.36 L223.90,137.64 L224.90,137.92 L225.90,138.20 L226.90,138.47 L227.90,138.73 L228.90,138.99 L229.90,139.25 L230.90,139.50 L231.90,139.74 L232.90,139.98 L233.90,140.21 L234.90,140.43 L235.90,140.65 L236.90,140.85 L237.90,141.05 L238.90,141.23 L239.90,141.40 L240.90,141.55 L241.90,141.69 L242.90,141.81 L243.90,141.92 L244.90,142.01 L245.90,142.08 L246.90,142.13 L247.90,142.15 L248.90,142.16 L249.90,142.14 L250.90,142.09 L251.90,142.03 L252.90,141.93 L253.90,141.81 L254.90,141.66 L255.90,141.48 L256.90,141.28 L257.90,141.05 L258.90,140.79 L259.90,140.51 L260.90,140.21 L261.90,139.87 L262.90,139.52 L263.90,139.14 L264.90,138.73 L265.90,138.30 L266.90,137.84 L267.90,137.36 L268.90,136.86 L269.90,136.33 L270.90,135.78 L271.90,135.21 L272.90,134.61 L273.90,134.00 L274.90,133.36 L275.90,132.70 L276.90,132.02 L277.90,131.32 L278.90,130.60 L279.90,129.86 L280.90,129.11 L281.90,128.34 L282.90,127.56 L283.90,126.77 L284.90,125.96 L285.90,125.13 L286.90,124.30 L287.90,123.45 L288.90,122.60 L289.90,121.73 L290.90,120.86 L291.90,119.98 L292.90,119.09 L293.90,118.20 L294.90,117.30 L295.90,116.40 L296.90,115.49 L297.90,114.58 L298.90,113.67 L299.90,112.75 L300.90,111.84 L301.90,110.93 L302.90,110.01 L303.90,109.09 L304.90,108.18 L305.90,107.25 L306.90,106.33 L307.90,105.40 L308.90,104.47 L309.90,103.53 L310.90,102.59 L311.90,101.65 L312.90,100.69 L313.90,99.73 L314.90,98.77 L315.90,97.80 L316.90,96.81 L317.90,95.83 L318.90,94.83 L319.90,93.82 L320.90,92.81 L321.90,91.78 L322.90,90.74 L323.90,89.69 L324.90,88.63 L325.90,87.56 L326.90,86.48 L327.90,85.38 L328.90,84.27 L329.90,83.14 L330.90,82.01 L331.90,80.85 L332.90,79.68 L333.90,78.50 L334.90,77.29 L335.90,76.07 L336.90,74.83 L337.90,73.57 L338.90,72.29 L339.90,70.99 L340.90,69.67 L341.90,68.32 L342.90,66.95 L343.90,65.56 L344.90,64.14 L345.90,62.69 L346.90,61.22 L347.90,59.72 L348.90,58.19 L349.90,56.63 L350.90,55.04 L351.90,53.42 L352.90,51.77 L353.90,50.09 L354.90,48.38 L355.90,46.63 L356.90,44.84 L357.90,43.02 L358.90,41.16 L359.90,39.27 L360.90,37.34 L361.90,35.37 L362.90,33.35 L363.90,31.30 L364.90,29.21 L365.90,27.08 L366.60,25.56" stroke="#800080" stroke-width="2.0" stroke-dasharray="5.10 4.80" stroke-dashoffset="0.35"/>
<path d="M217.40,146.01 L218.40,146.26 L219.40,146.51 L220.40,146.76 L221.40,147.02 L222.40,147.28 L223.40,147.54 L224.40,147.80 L225.40,148.06 L226.40,148.32 L227.40,148.59 L228.40,148.86 L229.40,149.13 L230.40,149.40 L231.40,149.67 L232.40,149.95 L233.40,150.22 L234.40,150.50 L235.40,150.78 L236.40,151.06 L237.40,151.34 L238.40,151.62 L239.40,151.91 L240.40,152.19 L241.40,152.48 L242.40,152.77 L243.40,153.06 L244.40,153.35 L245.40,153.64 L246.40,153.94 L247.40,154.23 L248.40,154.53 L249.40,154.82 L250.40,155.12 L251.40,155.42 L252.40,155.72 L253.40,156.02 L254.40,156.32 L255.40,156.62 L256.40,156.93 L257.40,157.23 L258.40,157.54 L259.40,157.84 L260.40,158.15 L261.40,158.46 L262.40,158.76 L263.40,159.07 L264.40,159.38 L265.40,159.69 L266.40,160.00 L267.40,160.31 L268.40,160.62 L269.40,160.94 L270.40,161.25 L271.40,161.56 L272.40,161.88 L273.40,162.19 L274.40,162.50 L275.40,162.82 L276.40,163.13 L277.40,163.45 L278.40,163.76 L279.40,164.08 L280.40,164.39 L281.40,164.71 L282.40,165.03 L283.40,165.34 L284.40,165.66 L285.40,165.97 L286.40,166.29 L287.40,166.61 L288.40,166.92 L289.40,167.24 L290.40,167.56 L291.40,167.87 L292.40,168.19 L293.40,168.50 L294.40,168.82 L295.40,169.13 L296.40,169.45 L297.40,169.76 L298.40,170.08 L299.40,170.39 L300.40,170.70 L301.40,171.02 L302.40,171.33 L303.40,171.64 L304.40,171.95 L305.40,172.26 L306.40,172.57 L307.40,172.88 L308.40,173.19 L309.40,173.50 L310.40,173.81 L311.40,174.12 L312.40,174.42 L313.40,174.73 L314.40,175.03 L315.40,175.34 L316.40,175.64 L317.40,175.94 L318.40,176.25 L319.40,176.55 L320.40,176.85 L321.40,177.14 L322.40,177.44 L323.40,177.74 L324.40,178.03 L325.40,178.33 L326.40,178.62 L327.40,178.91 L328.40,179.20 L329.40,179.49 L330.40,179.78 L331.40,180.07 L332.40,180.35 L333.40,180.64 L334.40,180.92 L335.40,181.20 L336.40,181.48 L337.40,181.76 L338.40,182.04 L339.40,182.32 L340.40,182.59 L341.40,182.86 L342.40,183.13 L343.40,183.40 L344.40,183.67 L345.40,183.94 L346.40,184.20 L347.40,184.46 L348.40,184.73 L349.40,184.98 L350.40,185.24 L351.40,185.50 L352.40,185.75 L353.40,186.00 L354.40,186.25 L355.40,186.50 L356.40,186.75 L357.40,186.99 L358.40,187.23 L359.40,187.47 L360.40,187.71 L361.40,187.94 L362.40,188.18 L363.40,188.41 L364.40,188.64 L365.40,188.86 L366.40,189.09 L367.40,189.31 L368.40,189.53 L369.40,189.74 L370.40,189.96 L371.40,190.17 L372.40,190.38 L373.40,190.59 L374.40,190.79 L375.40,190.99 L376.40,191.18 L377.40,191.36 L378.40,191.53 L379.40,191.68 L380.40,191.81 L381.40,191.93 L382.40,192.02 L383.40,192.08 L384.40,192.12 L385.40,192.13 L386.40,192.10 L387.40,192.04 L388.40,191.94 L389.40,191.80 L390.40,191.62 L391.40,191.39 L392.40,191.12 L393.40,190.80 L394.40,190.44 L395.40,190.03 L396.40,189.58 L397.40,189.10 L398.40,188.58 L399.40,188.02 L400.40,187.43 L401.40,186.80 L402.40,186.14 L403.40,185.46 L404.40,184.75 L405.40,184.01 L406.40,183.25 L407.40,182.46 L408.40,181.66 L409.40,180.83 L410.40,179.99 L411.40,179.13 L412.40,178.25 L413.40,177.36 L414.40,176.45 L415.40,175.53 L416.40,174.59 L417.40,173.65 L418.40,172.69 L419.40,171.72 L420.40,170.75 L421.40,169.76 L422.40,168.77 L423.40,167.77 L424.40,166.77 L425.40,165.76 L426.40,164.75 L427.40,163.74 L428.40,162.72 L429.40,161.70 L430.40,160.69 L431.40,159.67 L432.40,158.66 L433.40,157.65 L434.40,156.64 L435.40,155.64 L436.40,154.64 L437.40,153.65 L438.40,152.67 L438.60,152.47" stroke="#ff8c00" stroke-width="2.0" stroke-dasharray="5.10 4.84" stroke-dashoffset="0.50"/>
<path d="M238.10,250.90 L239.10,251.27 L240.10,251.64 L241.10,252.00 L242.10,252.35 L243.10,252.69 L244.10,253.03 L245.10,253.36 L246.10,253.69 L247.10,254.01 L248.10,254.32 L249.10,254.63 L250.10,254.93 L251.10,255.23 L252.10,255.53 L253.10,255.82 L254.10,256.11 L255.10,256.39 L256.10,256.67 L257.10,256.95 L258.10,257.22 L259.10,257.49 L260.10,257.76 L261.10,258.03 L262.10,258.29 L263.10,258.56 L264.10,258.82 L265.10,259.08 L266.10,259.34 L267.10,259.60 L268.10,259.86 L269.10,260.12 L270.10,260.38 L271.10,260.65 L272.10,260.91 L273.10,261.17 L274.10,261.44 L275.10,261.70 L276.10,261.97 L277.10,262.24 L278.10,262.51 L279.10,262.79 L280.10,263.07 L281.10,263.35 L282.10,263.64 L283.10,263.93 L284.10,264.22 L285.10,264.52 L286.10,264.82 L287.10,265.13 L288.10,265.44 L289.10,265.76 L290.10,266.08 L291.10,266.41 L292.10,266.75 L293.10,267.09 L294.10,267.43 L295.10,267.78 L296.10,268.13 L297.10,268.49 L298.10,268.85 L299.10,269.21 L300.10,269.57 L301.10,269.93 L302.10,270.29 L303.10,270.66 L304.10,271.02 L305.10,271.38 L306.10,271.74 L307.10,272.10 L308.10,272.45 L309.10,272.80 L310.10,273.15 L311.10,273.50 L312.10,273.84 L313.10,274.17 L314.10,274.50 L315.10,274.82 L316.10,275.14 L317.10,275.45 L318.10,275.75 L319.10,276.05 L320.10,276.33 L321.10,276.61 L322.10,276.87 L323.10,277.13 L324.10,277.38 L325.10,277.61 L326.10,277.84 L327.10,278.05 L328.10,278.25 L329.10,278.43 L330.10,278.60 L331.10,278.76 L332.10,278.91 L333.10,279.04 L334.10,279.15 L335.10,279.25 L336.10,279.33 L337.10,279.39 L338.10,279.44 L339.10,279.46 L340.10,279.47 L341.10,279.46 L342.10,279.44 L343.10,279.39 L344.10,279.32 L345.10,279.23 L346.10,279.12 L347.10,278.99 L348.10,278.84 L349.10,278.66 L350.10,278.46 L351.10,278.24 L352.10,277.99 L353.10,277.72 L354.10,277.42 L355.10,277.10 L356.10,276.76 L357.10,276.38 L358.10,275.98 L359.10,275.56 L360.10,275.10 L361.10,274.62 L362.10,274.11 L363.10,273.57 L364.10,273.00 L365.10,272.40 L366.10,271.77 L367.10,271.12 L368.10,270.44 L369.10,269.74 L370.10,269.02 L371.10,268.27 L372.10,267.50 L373.10,266.71 L374.10,265.90 L375.10,265.08 L376.10,264.23 L377.10,263.37 L378.10,262.50 L379.10,261.61 L380.10,260.71 L381.10,259.79 L382.10,258.87 L383.10,257.93 L384.10,256.99 L385.10,256.04 L386.10,255.08 L387.10,254.12 L388.10,253.15 L389.10,252.18 L390.10,251.20 L391.10,250.23 L392.10,249.25 L393.10,248.27 L394.10,247.30 L395.10,246.32 L396.10,245.36 L397.10,244.39 L398.10,243.43 L399.10,242.48 L400.10,241.53 L401.10,240.58 L402.10,239.64 L403.10,238.70 L404.10,237.76 L405.10,236.83 L406.10,235.89 L407.10,234.96 L408.10,234.04 L409.10,233.11 L410.10,232.18 L411.10,231.26 L412.10,230.33 L413.10,229.41 L414.10,228.48 L415.10,227.56 L416.10,226.63 L417.10,225.70 L418.10,224.77 L419.10,223.84 L420.10,222.90 L421.10,221.96 L422.10,221.02 L423.10,220.07 L424.10,219.12 L425.10,218.17 L426.10,217.21 L427.10,216.25 L428.10,215.28 L429.10,214.30 L430.10,213.32 L431.10,212.33 L432.10,211.34 L433.10,210.34 L434.10,209.33 L435.10,208.31 L436.10,207.29 L437.10,206.25 L438.10,205.21 L438.60,204.69" stroke="#ff0000" stroke-width="2.0" stroke-dasharray="5.10 4.83" stroke-dashoffset="0.00"/>
</g>
<path d="M69.70,313.70v-8.60 M69.70,27.50v8.60 M143.48,313.70v-8.60 M143.48,27.50v8.60 M217.26,313.70v-8.60 M217.26,27.50v8.60 M291.04,313.70v-8.60 M291.04,27.50v8.60 M364.82,313.70v-8.60 M364.82,27.50v8.60 M438.60,313.70v-8.60 M438.60,27.50v8.60 M69.70,27.50h8.10 M438.60,27.50h-8.10 M69.70,49.52h8.10 M438.60,49.52h-8.10 M69.70,71.53h8.10 M438.60,71.53h-8.10 M69.70,93.55h8.10 M438.60,93.55h-8.10 M69.70,115.56h8.10 M438.60,115.56h-8.10 M69.70,137.58h8.10 M438.60,137.58h-8.10 M69.70,159.59h8.10 M438.60,159.59h-8.10 M69.70,181.61h8.10 M438.60,181.61h-8.10 M69.70,203.62h8.10 M438.60,203.62h-8.10 M69.70,225.64h8.10 M438.60,225.64h-8.10 M69.70,247.65h8.10 M438.60,247.65h-8.10 M69.70,269.67h8.10 M438.60,269.67h-8.10 M69.70,291.68h8.10 M438.60,291.68h-8.10 M69.70,313.70h8.10 M438.60,313.70h-8.10" stroke="#000" stroke-width="1.25" fill="none"/>
<path d="M91.91,313.70v-5.30 M91.91,27.50v5.30 M104.90,313.70v-5.30 M104.90,27.50v5.30 M114.12,313.70v-5.30 M114.12,27.50v5.30 M121.27,313.70v-5.30 M121.27,27.50v5.30 M127.11,313.70v-5.30 M127.11,27.50v5.30 M132.05,313.70v-5.30 M132.05,27.50v5.30 M136.33,313.70v-5.30 M136.33,27.50v5.30 M140.10,313.70v-5.30 M140.10,27.50v5.30 M165.69,313.70v-5.30 M165.69,27.50v5.30 M178.68,313.70v-5.30 M178.68,27.50v5.30 M187.90,313.70v-5.30 M187.90,27.50v5.30 M195.05,313.70v-5.30 M195.05,27.50v5.30 M200.89,313.70v-5.30 M200.89,27.50v5.30 M205.83,313.70v-5.30 M205.83,27.50v5.30 M210.11,313.70v-5.30 M210.11,27.50v5.30 M213.88,313.70v-5.30 M213.88,27.50v5.30 M239.47,313.70v-5.30 M239.47,27.50v5.30 M252.46,313.70v-5.30 M252.46,27.50v5.30 M261.68,313.70v-5.30 M261.68,27.50v5.30 M268.83,313.70v-5.30 M268.83,27.50v5.30 M274.67,313.70v-5.30 M274.67,27.50v5.30 M279.61,313.70v-5.30 M279.61,27.50v5.30 M283.89,313.70v-5.30 M283.89,27.50v5.30 M287.66,313.70v-5.30 M287.66,27.50v5.30 M313.25,313.70v-5.30 M313.25,27.50v5.30 M326.24,313.70v-5.30 M326.24,27.50v5.30 M335.46,313.70v-5.30 M335.46,27.50v5.30 M342.61,313.70v-5.30 M342.61,27.50v5.30 M348.45,313.70v-5.30 M348.45,27.50v5.30 M353.39,313.70v-5.30 M353.39,27.50v5.30 M357.67,313.70v-5.30 M357.67,27.50v5.30 M361.44,313.70v-5.30 M361.44,27.50v5.30 M387.03,313.70v-5.30 M387.03,27.50v5.30 M400.02,313.70v-5.30 M400.02,27.50v5.30 M409.24,313.70v-5.30 M409.24,27.50v5.30 M416.39,313.70v-5.30 M416.39,27.50v5.30 M422.23,313.70v-5.30 M422.23,27.50v5.30 M427.17,313.70v-5.30 M427.17,27.50v5.30 M431.45,313.70v-5.30 M431.45,27.50v5.30 M435.22,313.70v-5.30 M435.22,27.50v5.30 M69.70,42.89h4.80 M438.60,42.89h-4.80 M69.70,36.26h4.80 M438.60,36.26h-4.80 M69.70,32.38h4.80 M438.60,32.38h-4.80 M69.70,29.63h4.80 M438.60,29.63h-4.80 M69.70,64.90h4.80 M438.60,64.90h-4.80 M69.70,58.28h4.80 M438.60,58.28h-4.80 M69.70,54.40h4.80 M438.60,54.40h-4.80 M69.70,51.65h4.80 M438.60,51.65h-4.80 M69.70,86.92h4.80 M438.60,86.92h-4.80 M69.70,80.29h4.80 M438.60,80.29h-4.80 M69.70,76.41h4.80 M438.60,76.41h-4.80 M69.70,73.66h4.80 M438.60,73.66h-4.80 M69.70,108.93h4.80 M438.60,108.93h-4.80 M69.70,102.31h4.80 M438.60,102.31h-4.80 M69.70,98.43h4.80 M438.60,98.43h-4.80 M69.70,95.68h4.80 M438.60,95.68h-4.80 M69.70,130.95h4.80 M438.60,130.95h-4.80 M69.70,124.32h4.80 M438.60,124.32h-4.80 M69.70,120.45h4.80 M438.60,120.45h-4.80 M69.70,117.70h4.80 M438.60,117.70h-4.80 M69.70,152.97h4.80 M438.60,152.97h-4.80 M69.70,146.34h4.80 M438.60,146.34h-4.80 M69.70,142.46h4.80 M438.60,142.46h-4.80 M69.70,139.71h4.80 M438.60,139.71h-4.80 M69.70,174.98h4.80 M438.60,174.98h-4.80 M69.70,168.35h4.80 M438.60,168.35h-4.80 M69.70,164.48h4.80 M438.60,164.48h-4.80 M69.70,161.73h4.80 M438.60,161.73h-4.80 M69.70,197.00h4.80 M438.60,197.00h-4.80 M69.70,190.37h4.80 M438.60,190.37h-4.80 M69.70,186.49h4.80 M438.60,186.49h-4.80 M69.70,183.74h4.80 M438.60,183.74h-4.80 M69.70,219.01h4.80 M438.60,219.01h-4.80 M69.70,212.38h4.80 M438.60,212.38h-4.80 M69.70,208.51h4.80 M438.60,208.51h-4.80 M69.70,205.76h4.80 M438.60,205.76h-4.80 M69.70,241.03h4.80 M438.60,241.03h-4.80 M69.70,234.40h4.80 M438.60,234.40h-4.80 M69.70,230.52h4.80 M438.60,230.52h-4.80 M69.70,227.77h4.80 M438.60,227.77h-4.80 M69.70,263.04h4.80 M438.60,263.04h-4.80 M69.70,256.41h4.80 M438.60,256.41h-4.80 M69.70,252.54h4.80 M438.60,252.54h-4.80 M69.70,249.79h4.80 M438.60,249.79h-4.80 M69.70,285.06h4.80 M438.60,285.06h-4.80 M69.70,278.43h4.80 M438.60,278.43h-4.80 M69.70,274.55h4.80 M438.60,274.55h-4.80 M69.70,271.80h4.80 M438.60,271.80h-4.80 M69.70,307.07h4.80 M438.60,307.07h-4.80 M69.70,300.45h4.80 M438.60,300.45h-4.80 M69.70,296.57h4.80 M438.60,296.57h-4.80 M69.70,293.82h4.80 M438.60,293.82h-4.80" stroke="#000" stroke-width="1.15" fill="none"/>
<rect x="69.70" y="27.50" width="368.90" height="286.20" fill="none" stroke="#000" stroke-width="1.3"/>
<text x="35.88" y="31.30" font-size="13.8" textLength="16.60" lengthAdjust="spacingAndGlyphs" stroke="#000" stroke-width="0.3" font-family="Liberation Sans, sans-serif">10</text><text x="52.78" y="26.00" font-size="9.7" textLength="9.42" lengthAdjust="spacingAndGlyphs" stroke="#000" stroke-width="0.3" font-family="Liberation Sans, sans-serif">-6</text>
<text x="35.88" y="53.32" font-size="13.8" textLength="16.60" lengthAdjust="spacingAndGlyphs" stroke="#000" stroke-width="0.3" font-family="Liberation Sans, sans-serif">10</text><text x="52.78" y="48.02" font-size="9.7" textLength="9.42" lengthAdjust="spacingAndGlyphs" stroke="#000" stroke-width="0.3" font-family="Liberation Sans, sans-serif">-7</text>
<text x="35.88" y="75.33" font-size="13.8" textLength="16.60" lengthAdjust="spacingAndGlyphs" stroke="#000" stroke-width="0.3" font-family="Liberation Sans, sans-serif">10</text><text x="52.78" y="70.03" font-size="9.7" textLength="9.42" lengthAdjust="spacingAndGlyphs" stroke="#000" stroke-width="0.3" font-family="Liberation Sans, sans-serif">-8</text>
<text x="35.88" y="97.35" font-size="13.8" textLength="16.60" lengthAdjust="spacingAndGlyphs" stroke="#000" stroke-width="0.3" font-family="Liberation Sans, sans-serif">10</text><text x="52.78" y="92.05" font-size="9.7" textLength="9.42" lengthAdjust="spacingAndGlyphs" stroke="#000" stroke-width="0.3" font-family="Liberation Sans, sans-serif">-9</text>
<text x="30.41" y="119.36" font-size="13.8" textLength="16.60" lengthAdjust="spacingAndGlyphs" stroke="#000" stroke-width="0.3" font-family="Liberation Sans, sans-serif">10</text><text x="47.31" y="114.06" font-size="9.7" textLength="14.89" lengthAdjust="spacingAndGlyphs" stroke="#000" stroke-width="0.3" font-family="Liberation Sans, sans-serif">-10</text>
<text x="30.41" y="141.38" font-size="13.8" textLength="16.60" lengthAdjust="spacingAndGlyphs" stroke="#000" stroke-width="0.3" font-family="Liberation Sans, sans-serif">10</text><text x="47.31" y="136.08" font-size="9.7" textLength="14.89" lengthAdjust="spacingAndGlyphs" stroke="#000" stroke-width="0.3" font-family="Liberation Sans, sans-serif">-11</text>
<text x="30.41" y="163.39" font-size="13.8" textLength="16.60" lengthAdjust="spacingAndGlyphs" stroke="#000" stroke-width="0.3" font-family="Liberation Sans, sans-serif">10</text><text x="47.31" y="158.09" font-size="9.7" textLength="14.89" lengthAdjust="spacingAndGlyphs" stroke="#000" stroke-width="0.3" font-family="Liberation Sans, sans-serif">-12</text>
<text x="30.41" y="185.41" font-size="13.8" textLength="16.60" lengthAdjust="spacingAndGlyphs" stroke="#000" stroke-width="0.3" font-family="Liberation Sans, sans-serif">10</text><text x="47.31" y="180.11" font-size="9.7" textLength="14.89" lengthAdjust="spacingAndGlyphs" stroke="#000" stroke-width="0.3" font-family="Liberation Sans, sans-serif">-13</text>
<text x="30.41" y="207.42" font-size="13.8" textLength="16.60" lengthAdjust="spacingAndGlyphs" stroke="#000" stroke-width="0.3" font-family="Liberation Sans, sans-serif">10</text><text x="47.31" y="202.12" font-size="9.7" textLength="14.89" lengthAdjust="spacingAndGlyphs" stroke="#000" stroke-width="0.3" font-family="Liberation Sans, sans-serif">-14</text>
<text x="30.41" y="229.44" font-size="13.8" textLength="16.60" lengthAdjust="spacingAndGlyphs" stroke="#000" stroke-width="0.3" font-family="Liberation Sans, sans-serif">10</text><text x="47.31" y="224.14" font-size="9.7" textLength="14.89" lengthAdjust="spacingAndGlyphs" stroke="#000" stroke-width="0.3" font-family="Liberation Sans, sans-serif">-15</text>
<text x="30.41" y="251.45" font-size="13.8" textLength="16.60" lengthAdjust="spacingAndGlyphs" stroke="#000" stroke-width="0.3" font-family="Liberation Sans, sans-serif">10</text><text x="47.31" y="246.15" font-size="9.7" textLength="14.89" lengthAdjust="spacingAndGlyphs" stroke="#000" stroke-width="0.3" font-family="Liberation Sans, sans-serif">-16</text>
<text x="30.41" y="273.47" font-size="13.8" textLength="16.60" lengthAdjust="spacingAndGlyphs" stroke="#000" stroke-width="0.3" font-family="Liberation Sans, sans-serif">10</text><text x="47.31" y="268.17" font-size="9.7" textLength="14.89" lengthAdjust="spacingAndGlyphs" stroke="#000" stroke-width="0.3" font-family="Liberation Sans, sans-serif">-17</text>
<text x="30.41" y="295.48" font-size="13.8" textLength="16.60" lengthAdjust="spacingAndGlyphs" stroke="#000" stroke-width="0.3" font-family="Liberation Sans, sans-serif">10</text><text x="47.31" y="290.18" font-size="9.7" textLength="14.89" lengthAdjust="spacingAndGlyphs" stroke="#000" stroke-width="0.3" font-family="Liberation Sans, sans-serif">-18</text>
<text x="30.41" y="317.50" font-size="13.8" textLength="16.60" lengthAdjust="spacingAndGlyphs" stroke="#000" stroke-width="0.3" font-family="Liberation Sans, sans-serif">10</text><text x="47.31" y="312.20" font-size="9.7" textLength="14.89" lengthAdjust="spacingAndGlyphs" stroke="#000" stroke-width="0.3" font-family="Liberation Sans, sans-serif">-19</text>
<text x="56.62" y="331.00" font-size="13.8" textLength="16.60" lengthAdjust="spacingAndGlyphs" stroke="#000" stroke-width="0.3" font-family="Liberation Sans, sans-serif">10</text><text x="73.22" y="325.70" font-size="9.7" textLength="8.95" lengthAdjust="spacingAndGlyphs" stroke="#000" stroke-width="0.3" font-family="Liberation Sans, sans-serif">-5</text>
<text x="130.40" y="331.00" font-size="13.8" textLength="16.60" lengthAdjust="spacingAndGlyphs" stroke="#000" stroke-width="0.3" font-family="Liberation Sans, sans-serif">10</text><text x="147.00" y="325.70" font-size="9.7" textLength="8.95" lengthAdjust="spacingAndGlyphs" stroke="#000" stroke-width="0.3" font-family="Liberation Sans, sans-serif">-4</text>
<text x="204.18" y="331.00" font-size="13.8" textLength="16.60" lengthAdjust="spacingAndGlyphs" stroke="#000" stroke-width="0.3" font-family="Liberation Sans, sans-serif">10</text><text x="220.78" y="325.70" font-size="9.7" textLength="8.95" lengthAdjust="spacingAndGlyphs" stroke="#000" stroke-width="0.3" font-family="Liberation Sans, sans-serif">-3</text>
<text x="277.96" y="331.00" font-size="13.8" textLength="16.60" lengthAdjust="spacingAndGlyphs" stroke="#000" stroke-width="0.3" font-family="Liberation Sans, sans-serif">10</text><text x="294.56" y="325.70" font-size="9.7" textLength="8.95" lengthAdjust="spacingAndGlyphs" stroke="#000" stroke-width="0.3" font-family="Liberation Sans, sans-serif">-2</text>
<text x="351.74" y="331.00" font-size="13.8" textLength="16.60" lengthAdjust="spacingAndGlyphs" stroke="#000" stroke-width="0.3" font-family="Liberation Sans, sans-serif">10</text><text x="368.34" y="325.70" font-size="9.7" textLength="8.95" lengthAdjust="spacingAndGlyphs" stroke="#000" stroke-width="0.3" font-family="Liberation Sans, sans-serif">-1</text>
<text x="427.75" y="331.00" font-size="13.8" textLength="16.60" lengthAdjust="spacingAndGlyphs" stroke="#000" stroke-width="0.3" font-family="Liberation Sans, sans-serif">10</text><text x="444.35" y="325.70" font-size="9.7" textLength="5.71" lengthAdjust="spacingAndGlyphs" stroke="#000" stroke-width="0.3" font-family="Liberation Sans, sans-serif">0</text>
<text x="109.90" y="49.80" font-size="14.2" fill="#32cd32" stroke="#32cd32" stroke-width="0.40" textLength="28.60" lengthAdjust="spacingAndGlyphs" font-family="Liberation Sans, sans-serif">LISA</text>
<text x="370.70" y="64.80" font-size="14.2" fill="#0000cd" stroke="#0000cd" stroke-width="0.40" textLength="50.40" lengthAdjust="spacingAndGlyphs" font-family="Liberation Sans, sans-serif">TianQin</text>
<text x="77.60" y="118.80" font-size="14.2" fill="#800080" stroke="#800080" stroke-width="0.40" textLength="27.20" lengthAdjust="spacingAndGlyphs" font-family="Liberation Sans, sans-serif">Taiji</text>
<text x="386.90" y="207.20" font-size="14.2" fill="#ff8c00" stroke="#ff8c00" stroke-width="0.40" textLength="29.60" lengthAdjust="spacingAndGlyphs" font-family="Liberation Sans, sans-serif">BBO</text>
<text x="261.20" y="298.70" font-size="14.2" fill="#ff0000" stroke="#ff0000" stroke-width="0.40" textLength="56.60" lengthAdjust="spacingAndGlyphs" font-family="Liberation Sans, sans-serif">Ultimate</text>
<text x="322.40" y="298.70" font-size="14.2" fill="#ff0000" stroke="#ff0000" stroke-width="0.40" textLength="52.40" lengthAdjust="spacingAndGlyphs" font-family="Liberation Sans, sans-serif">DECIGO</text>
<text x="126.70" y="158.00" font-size="14.2" fill="#008000" stroke="#008000" stroke-width="0.40" textLength="25.41" lengthAdjust="spacingAndGlyphs" text-anchor="middle" font-family="Liberation Sans, sans-serif" transform="rotate(-42.5 126.70 158.00)" dy="5">BP4</text>
<text x="126.70" y="190.80" font-size="14.2" fill="#bf00bf" stroke="#bf00bf" stroke-width="0.40" textLength="25.41" lengthAdjust="spacingAndGlyphs" text-anchor="middle" font-family="Liberation Sans, sans-serif" transform="rotate(-42.5 126.70 190.80)" dy="5">BP1</text>
<text x="126.70" y="228.00" font-size="14.2" fill="#008080" stroke="#008080" stroke-width="0.40" textLength="25.41" lengthAdjust="spacingAndGlyphs" text-anchor="middle" font-family="Liberation Sans, sans-serif" transform="rotate(-42.5 126.70 228.00)" dy="5">BP3</text>
<text x="126.70" y="264.70" font-size="14.2" fill="#7b68ee" stroke="#7b68ee" stroke-width="0.40" textLength="25.41" lengthAdjust="spacingAndGlyphs" text-anchor="middle" font-family="Liberation Sans, sans-serif" transform="rotate(-42.5 126.70 264.70)" dy="5">BP2</text>
<text x="121.50" y="17.3" font-size="15.0" stroke="#000" stroke-width="0.25" textLength="95.60" lengthAdjust="spacingAndGlyphs" font-family="Liberation Sans, sans-serif">Gravitational</text>
<text x="222.90" y="17.3" font-size="15.0" stroke="#000" stroke-width="0.25" textLength="38.30" lengthAdjust="spacingAndGlyphs" font-family="Liberation Sans, sans-serif">wave</text>
<text x="268.00" y="17.3" font-size="15.0" stroke="#000" stroke-width="0.25" textLength="54.40" lengthAdjust="spacingAndGlyphs" font-family="Liberation Sans, sans-serif">spectra</text>
<text x="322.4" y="17.3" font-size="16" stroke="#000" stroke-width="0.25" font-family="Liberation Serif, serif">,</text>
<text x="333.6" y="17.4" font-size="16.5" font-style="italic" textLength="8" lengthAdjust="spacingAndGlyphs" stroke="#000" stroke-width="0.25" font-family="Liberation Serif, serif">v</text>
<text x="342.2" y="20.0" font-size="10.5" textLength="7.4" lengthAdjust="spacingAndGlyphs" stroke="#000" stroke-width="0.25" font-family="Liberation Serif, serif">w</text>
<text x="352.1" y="17.6" font-size="17.5" textLength="10.4" lengthAdjust="spacingAndGlyphs" stroke="#000" stroke-width="0.25" font-family="Liberation Serif, serif">=</text>
<text x="365.8" y="17.4" font-size="16.5" font-style="italic" textLength="8" lengthAdjust="spacingAndGlyphs" stroke="#000" stroke-width="0.25" font-family="Liberation Serif, serif">v</text>
<text x="373.9" y="20.0" font-size="10.8" textLength="11.6" lengthAdjust="spacingAndGlyphs" stroke="#000" stroke-width="0.25" font-family="Liberation Serif, serif">CJ</text>
<text x="230.7" y="351.4" font-size="18" font-style="italic" stroke="#000" stroke-width="0.15" textLength="6.3" lengthAdjust="spacingAndGlyphs" font-family="Liberation Serif, serif">f</text>
<text x="243.9" y="351.4" font-size="17.5" stroke="#000" stroke-width="0.25" textLength="35.0" lengthAdjust="spacingAndGlyphs" font-family="Liberation Serif, serif">(Hz)</text>
<g transform="translate(21.1 200) rotate(-90)" stroke="#000" stroke-width="0.25"><text x="-0.6" y="0.2" font-size="18.3" font-family="Liberation Serif, serif">Ω</text><text x="13.2" y="3.3" font-size="12.8" textLength="23.6" lengthAdjust="spacingAndGlyphs" font-family="Liberation Serif, serif">GW</text><text x="38.0" y="0" font-size="17.5" font-style="italic" textLength="10.6" lengthAdjust="spacingAndGlyphs" font-family="Liberation Serif, serif">h</text><text x="50.9" y="-7" font-size="12.2" font-family="Liberation Serif, serif">2</text></g>
</svg></body></html>
